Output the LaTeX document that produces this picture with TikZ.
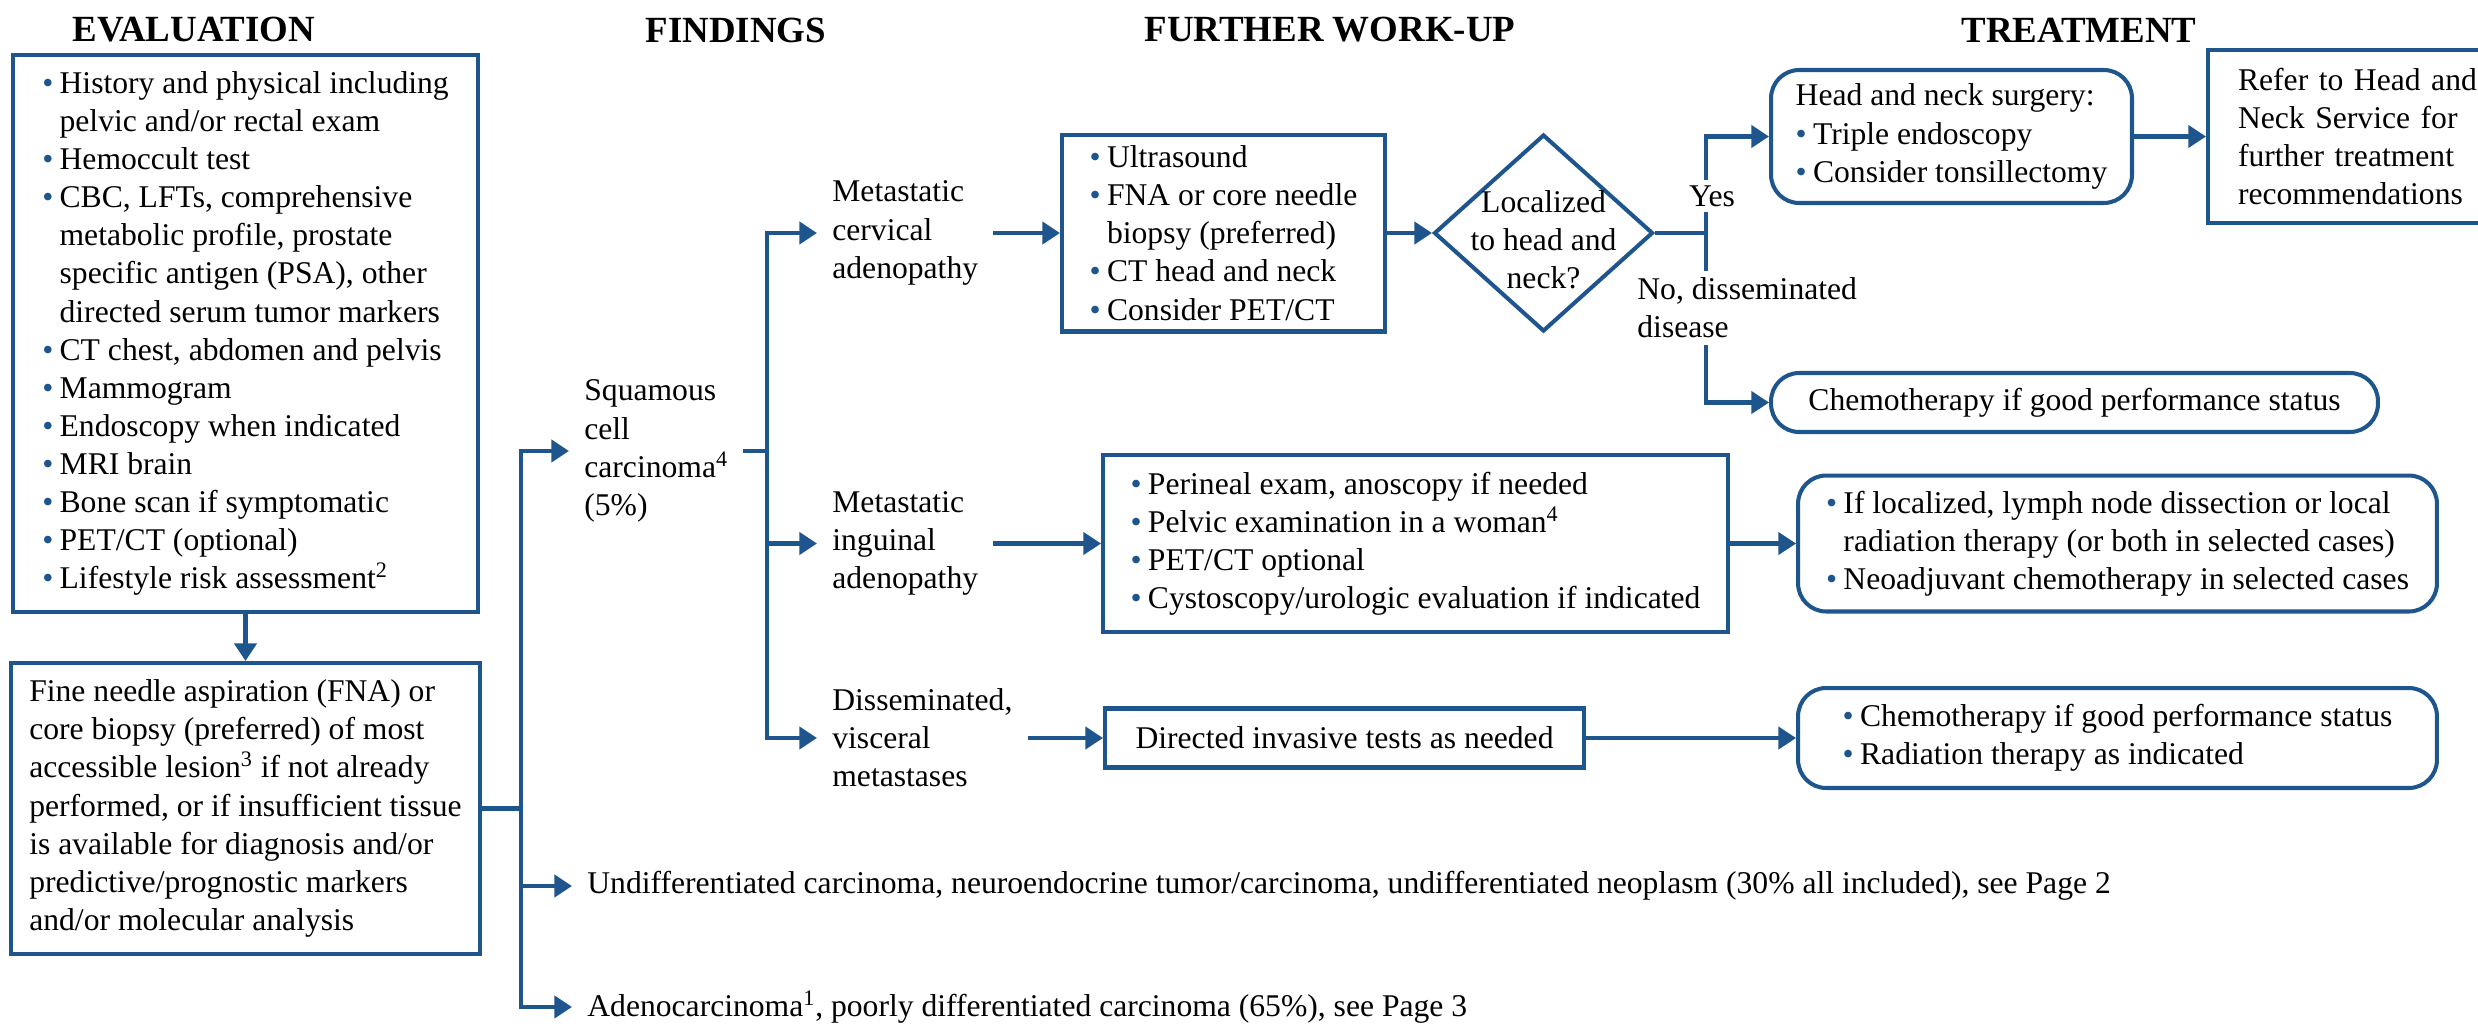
\documentclass[tikz,border=0pt]{standalone}
\usepackage{fontspec}
\setmainfont{Liberation Serif}
\usetikzlibrary{shapes.geometric,arrows.meta}
\definecolor{nccn}{RGB}{30,85,140}
\newcommand{\bul}{\makebox[0.55em][l]{\textcolor{nccn}{\textbullet}}}
\newcommand{\ind}{\hspace*{0.55em}}

\begin{document}
\begin{tikzpicture}[x=0.02cm, y=-0.02cm,
  every node/.style={font=\fontsize{18}{21.7}\selectfont},
  head/.style={font=\fontsize{21}{25}\selectfont\bfseries},
  box/.style={draw=nccn, line width=2.3pt, align=left, inner sep=0pt},
  rbox/.style={box, rounded corners=16pt},
  txt/.style={align=left, inner xsep=0.3cm, inner ysep=0pt},
  ln/.style={draw=nccn, line width=2.3pt},
  arr/.style={ln, -{Triangle[length=10pt, width=12.5pt]}}]
\useasboundingbox (0,0) rectangle (2478,1025);

% headings
\node[head] (hEval) at (194,30) {EVALUATION};
\node[head] (hFind) at (736,30) {FINDINGS};
\node[head] (hWork) at (1330,30) {FURTHER WORK-UP};
\node[head] (hTreat) at (2079,30) {TREATMENT};

% evaluation
\node[box, minimum width=9.3cm, minimum height=11.14cm] (eval) at (245.5,333.5)
  {\bul History and physical including\\\ind pelvic and/or rectal exam\\
   \bul Hemoccult test\\\bul CBC, LFTs, comprehensive\\\ind metabolic profile, prostate\\
   \ind specific antigen (PSA), other\\\ind directed serum tumor markers\\
   \bul CT chest, abdomen and pelvis\\\bul Mammogram\\\bul Endoscopy when indicated\\
   \bul MRI brain\\\bul Bone scan if symptomatic\\\bul PET/CT (optional)\\
   \bul Lifestyle risk assessment\textsuperscript{2}};
\node[box, minimum width=9.38cm, minimum height=5.82cm] (fna) at (245.5,808.5)
  {Fine needle aspiration (FNA) or\\core biopsy (preferred) of most\\
   accessible lesion\textsuperscript{3} if not already\\performed, or if insufficient tissue\\
   is available for diagnosis and/or\\predictive/prognostic markers\\
   and/or molecular analysis};
\draw[arr] (eval) -- (fna);

% findings
\node[txt, anchor=west] (sq) at (569,451) {Squamous\\cell\\carcinoma\textsuperscript{4}\\(5\%)};
\node[txt, anchor=west] (und) at (572,886)
  {Undifferentiated carcinoma, neuroendocrine tumor/carcinoma, undifferentiated neoplasm (30\% all included), see Page 2};
\node[txt, anchor=west] (ade) at (572,1007)
  {Adenocarcinoma\textsuperscript{1}, poorly differentiated carcinoma (65\%), see Page 3};
\coordinate (tr1) at (521,808.5);
\draw[ln] (fna.east) -- (tr1);
\draw[arr] (tr1) |- (sq.west);
\draw[arr] (tr1) |- (und.west);
\draw[arr] (tr1) |- (ade.west);

\node[txt, anchor=west] (cerv) at (817,233) {Metastatic\\cervical\\adenopathy};
\node[txt, anchor=west] (ing) at (817,543.5) {Metastatic\\inguinal\\adenopathy};
\node[txt, anchor=west] (dis) at (817,738) {Disseminated,\\visceral\\metastases};
\coordinate (tr2) at (767,451);
\draw[ln] (sq.east) -- (tr2);
\draw[arr] (tr2) |- (cerv.west);
\draw[arr] (tr2) |- (ing.west);
\draw[arr] (tr2) |- (dis.west);

% further work-up
\node[box, minimum width=6.46cm, minimum height=3.94cm] (us) at (1223.5,233)
  {\bul Ultrasound\\\bul FNA or core needle\\\ind biopsy (preferred)\\
   \bul CT head and neck\\\bul Consider PET/CT};
\node[diamond, draw=nccn, line width=2.3pt, minimum width=4.38cm, minimum height=3.94cm,
  inner sep=0pt, label={[align=center, yshift=-4pt]center:Localized\\to head and\\neck?}]
  (loc) at (1543.5,233) {};
\node[box, minimum width=12.5cm, minimum height=3.54cm] (ingbox) at (1415.5,543.5)
  {\bul Perineal exam, anoscopy if needed\\\bul Pelvic examination in a woman\textsuperscript{4}\\
   \bul PET/CT optional\\\bul Cystoscopy/urologic evaluation if indicated};
\node[box, minimum width=9.58cm, minimum height=1.18cm] (dir) at (1344.5,738)
  {Directed invasive tests as needed};
\draw[arr] (cerv.east) -- (us.west);
\draw[arr] (us.east) -- (loc.west);
\draw[arr] (ing.east) -- (ingbox.west);
\draw[arr] (dis.east) -- (dir.west);

% treatment
\node[rbox, minimum width=7.22cm, minimum height=2.66cm] (hn) at (1951.5,136.5)
  {Head and neck surgery:\\\bul Triple endoscopy\\\bul Consider tonsillectomy};
\node[box, text width=5.04cm, inner xsep=0.6cm, minimum height=3.46cm] (ref) at (2364,136.5)
  {Refer to Head and\\Neck Service for\\further treatment\\recommendations};
\node[rbox, minimum width=12.14cm, minimum height=1.18cm] (ch1) at (2074.5,402.5)
  {Chemotherapy if good performance status};
\node[rbox, minimum width=12.78cm, minimum height=2.72cm] (ingtx) at (2117.5,543.5)
  {\bul If localized, lymph node dissection or local\\
   \ind radiation therapy (or both in selected cases)\\
   \bul Neoadjuvant chemotherapy in selected cases};
\node[rbox, minimum width=12.78cm, minimum height=2.0cm] (distx) at (2117.5,738)
  {\bul Chemotherapy if good performance status\\\bul Radiation therapy as indicated};
\coordinate (br) at (1706,233);
\draw[ln] (loc.east) -- (br);
\draw[arr] (br) |- (hn.west);
\draw[arr] (br) |- (ch1.west);
\draw[arr] (hn.east) -- (ref.west);
\draw[arr] (ingbox.east) -- (ingtx.west);
\draw[arr] (dir.east) -- (distx.west);
\node[fill=white, inner sep=3pt] (yes) at (1712,196) {Yes};
\node[fill=white, align=left, anchor=west, inner sep=4pt] (no) at (1630,308)
  {No, disseminated\\disease};
\end{tikzpicture}
\end{document}
